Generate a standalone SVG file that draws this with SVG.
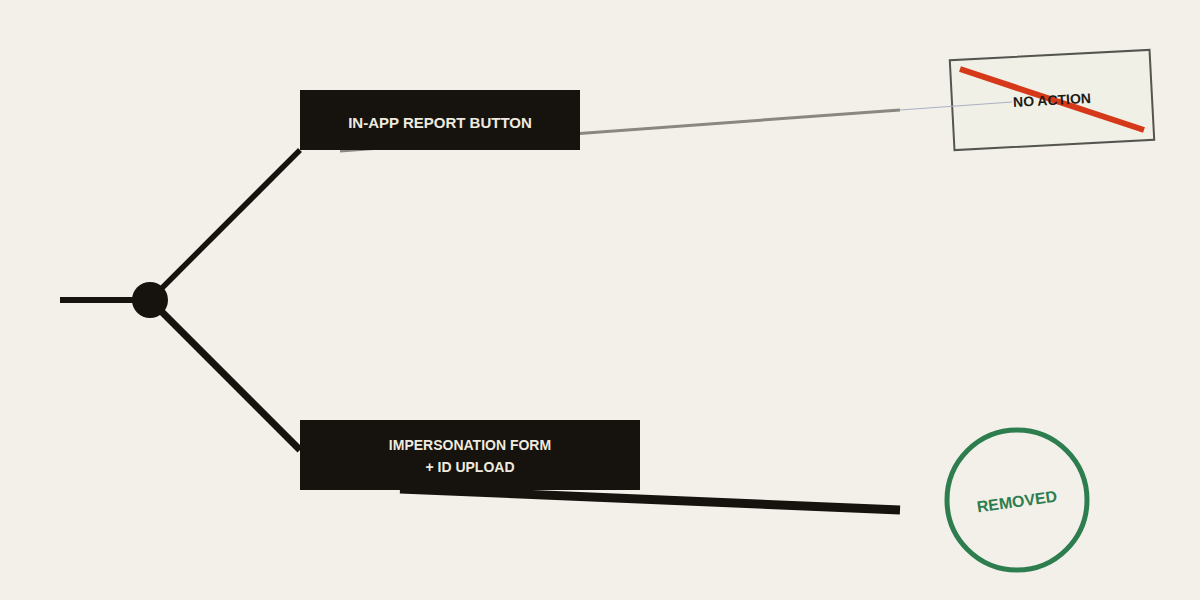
<svg xmlns="http://www.w3.org/2000/svg" width="1200" height="600" viewBox="0 0 1200 600">
<style>
.box{fill:#16130e}
.lbl{font-family:"Liberation Sans",Arial,sans-serif;font-weight:bold;font-size:14px;fill:#efeadf;text-anchor:middle}
.edge{stroke:#16130e;fill:none;stroke-linecap:butt}
</style>
<rect width="1200" height="600" fill="#f3f0ea"/>
<g id="node-noaction" transform="rotate(-3 1052 100)">
<rect x="952" y="55" width="200" height="90" fill="#f1f0e6" stroke="#555550" stroke-width="2"/>
</g>
<g id="connectors">
<line class="edge" x1="60" y1="300" x2="140" y2="300" stroke-width="6"/>
<line class="edge" x1="150" y1="300" x2="300" y2="150" stroke-width="5.5"/>
<line class="edge" x1="150" y1="300" x2="300" y2="450" stroke-width="7"/>
<line x1="340" y1="151" x2="900" y2="110" stroke="#8a8680" stroke-width="3"/>
<line x1="900" y1="110" x2="1012" y2="102" stroke="#a9b0c2" stroke-width="1.2"/>
<line class="edge" x1="400" y1="489" x2="900" y2="510" stroke-width="9"/>
</g>
<g id="node-noaction-mark" transform="rotate(-3 1052 100)">
<line x1="960" y1="69" x2="1144" y2="130" stroke="#d6381a" stroke-width="6" transform="rotate(3 1052 100)"/>
<text x="1052" y="105" font-family="Liberation Sans,Arial,sans-serif" font-weight="bold" font-size="14" fill="#1c1a16" text-anchor="middle">NO ACTION</text>
</g>
<g id="hub"><circle cx="150" cy="300" r="18" fill="#16130e"/></g>
<g id="node-report">
<rect class="box" x="300" y="90" width="280" height="60"/>
<text class="lbl" x="440" y="128" font-size="15" style="font-size:15px">IN-APP REPORT BUTTON</text>
</g>
<g id="node-form">
<rect class="box" x="300" y="420" width="340" height="70"/>
<text class="lbl" x="470" y="450">IMPERSONATION FORM</text>
<text class="lbl" x="470" y="472">+ ID UPLOAD</text>
</g>
<g id="node-removed">
<circle cx="1017" cy="500" r="70" fill="none" stroke="#2e7d4f" stroke-width="5"/>
<text x="1017" y="507" transform="rotate(-8 1017 502)" font-family="Liberation Sans,Arial,sans-serif" font-weight="bold" font-size="16" fill="#2e7d4f" text-anchor="middle">REMOVED</text>
</g>
</svg>
